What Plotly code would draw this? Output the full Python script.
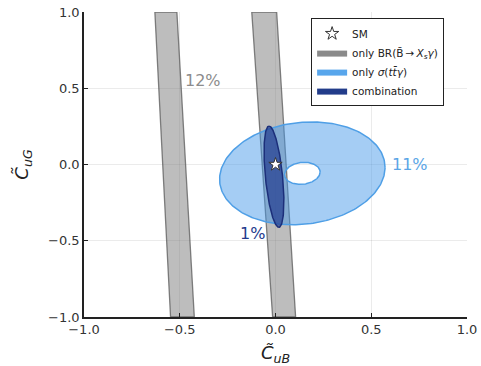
import numpy as np
import plotly.graph_objects as go

# ---- data ----
# BR(B->Xs gamma) bands: edge x-positions at y = +1 (top) and y = -1 (bottom)
band_names = ["left", "right"]
band_top_lo = [-0.630, -0.124]
band_top_hi = [-0.515, 0.006]
band_bot_lo = [-0.548, -0.015]
band_bot_hi = [-0.424, 0.105]
band_y = [1.0, -1.0]

# sigma(tt gamma) annulus: outer and inner ellipses (center, semi-axes, shear)
ring_center = [0.140, -0.058]
ring_outer_axes = [0.432, 0.335]
ring_inner_axes = [0.093, 0.072]
ring_shear = 0.09

# combination ellipse: end points of major axis and minor semi-axis
comb_top = [-0.034, 0.252]
comb_bot = [0.018, -0.412]
comb_minor = 0.045

# SM point
sm_x = [0.0]
sm_y = [0.0]

# labels
label_text = ["12%", "11%", "1%"]
label_x = [-0.38, 0.70, -0.12]
label_y = [0.553, 0.0, -0.452]
label_color = ["#8c8c8c", "#5aa5e6", "#233a8c"]

tick_vals = [-1.0, -0.5, 0.0, 0.5, 1.0]
tick_text = ["\u22121.0", "\u22120.5", "0.0", "0.5", "1.0"]

t = np.linspace(0, 2 * np.pi, 241)

fig = go.Figure()

GRAY_FILL = "rgba(128,128,128,0.52)"
GRAY_LINE = "rgba(90,90,90,0.75)"
LB_FILL = "rgba(66,150,232,0.48)"
LB_LINE = "#4f9fe6"
DB_FILL = "rgba(30,55,140,0.68)"
DB_LINE = "#1c2f7a"

# bands
for i in range(len(band_names)):
    xs = [band_top_lo[i], band_top_hi[i], band_bot_hi[i], band_bot_lo[i], band_top_lo[i]]
    ys = [band_y[0], band_y[0], band_y[1], band_y[1], band_y[0]]
    fig.add_trace(go.Scatter(
        x=xs, y=ys, mode="lines", fill="toself", fillcolor=GRAY_FILL,
        line=dict(color=GRAY_LINE, width=1.3),
        showlegend=False, hoverinfo="skip"))

# annulus (outer loop counter-clockwise, inner loop clockwise -> hole)
cx, cy = ring_center
ox = cx + ring_outer_axes[0] * np.cos(t)
oy = cy + ring_outer_axes[1] * np.sin(t) + ring_shear * (ox - cx)
ix = cx + ring_inner_axes[0] * np.cos(t)
iy = cy + ring_inner_axes[1] * np.sin(t) + ring_shear * (ix - cx)
fx = list(ox) + [None] + list(ix[::-1])
fy = list(oy) + [None] + list(iy[::-1])
fig.add_trace(go.Scatter(x=fx, y=fy, mode="lines", fill="toself", fillcolor=LB_FILL,
                         line=dict(color=LB_LINE, width=1.5), connectgaps=False,
                         showlegend=False, hoverinfo="skip"))

# combination ellipse
c = (np.array(comb_top) + np.array(comb_bot)) / 2
d = (np.array(comb_top) - np.array(comb_bot)) / 2
a = np.linalg.norm(d)
u = d / a
v = np.array([u[1], -u[0]])
ex = c[0] + a * np.cos(t) * u[0] + comb_minor * np.sin(t) * v[0]
ey = c[1] + a * np.cos(t) * u[1] + comb_minor * np.sin(t) * v[1]
fig.add_trace(go.Scatter(x=ex, y=ey, mode="lines", fill="toself", fillcolor=DB_FILL,
                         line=dict(color=DB_LINE, width=1.5),
                         showlegend=False, hoverinfo="skip"))

# SM star
fig.add_trace(go.Scatter(x=sm_x, y=sm_y, mode="markers",
                         marker=dict(symbol="star", size=10, color="white",
                                     line=dict(color="#333333", width=1)),
                         name="SM", showlegend=True))

# legend proxies
fig.add_trace(go.Scatter(x=[None], y=[None], mode="lines", fill="toself",
                         fillcolor="#8a8a8a", line=dict(color="#8a8a8a", width=0),
                         name="only BR(B\u0304\u2009\u2192\u2009<i>X<sub>s</sub>γ</i>)"))
fig.add_trace(go.Scatter(x=[None], y=[None], mode="lines", fill="toself",
                         fillcolor="#58a6ec", line=dict(color="#58a6ec", width=0),
                         name="only <i>σ</i>(<i>tt\u0304γ</i>)"))
fig.add_trace(go.Scatter(x=[None], y=[None], mode="lines", fill="toself",
                         fillcolor="#223c8a", line=dict(color="#223c8a", width=0),
                         name="combination"))

for txt, lx, ly, col in zip(label_text, label_x, label_y, label_color):
    fig.add_annotation(x=lx, y=ly, text=txt, showarrow=False,
                       font=dict(size=16, color=col, family="DejaVu Sans"))

axis_common = dict(
    range=[-1, 1], tickvals=tick_vals, ticktext=tick_text,
    showgrid=True, gridcolor="rgba(0,0,0,0.08)", gridwidth=1,
    zeroline=False, showline=True, linecolor="#222222", linewidth=1.5,
    ticks="inside", ticklen=4, tickcolor="#222222",
    tickfont=dict(size=13, color="#333333", family="DejaVu Sans"),
    mirror=False, automargin=False,
)

fig.update_layout(
    width=481, height=366,
    margin=dict(l=84, r=14, t=12, b=49),
    paper_bgcolor="white", plot_bgcolor="white",
    font=dict(family="DejaVu Sans", color="#222222"),
    xaxis=dict(**axis_common,
               title=dict(text="<i>C\u0303<sub>uB</sub></i>", font=dict(size=18))),
    yaxis=dict(**axis_common,
               title=dict(text="<i>C\u0303<sub>uG</sub></i>", font=dict(size=18))),
    legend=dict(x=0.593, y=0.98, xanchor="left", yanchor="top",
                bgcolor="white", bordercolor="#222222", borderwidth=1,
                font=dict(size=10.5, color="#222222"), tracegroupgap=0),
    showlegend=True,
)

fig.write_html("out.html", config={"displayModeBar": False},
               post_script="document.body.style.margin='0';document.body.style.overflow='hidden';")
